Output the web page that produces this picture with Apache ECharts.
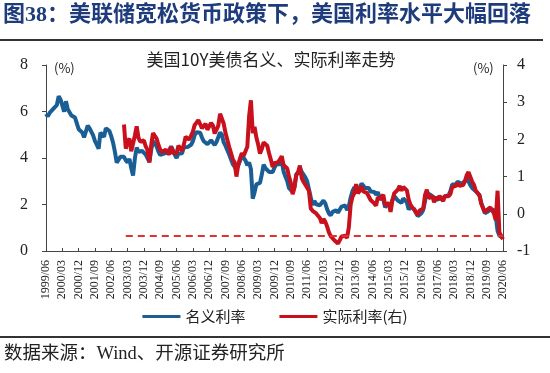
<!DOCTYPE html>
<html>
<head>
<meta charset="utf-8">
<script src="https://cdn.jsdelivr.net/npm/echarts@6/dist/echarts.min.js"></script>
<style>
html,body{margin:0;padding:0;background:#fff;}
#chart{width:550px;height:373px;}
</style>
</head>
<body>
<div id="chart"></div>
<script>
// ---- data ----
var firstMonth = [1999, 6];
var lastMonth = [2020, 6];
var tickLabels = ['1999/06','2000/03','2000/12','2001/09','2002/06','2003/03','2003/12','2004/09','2005/06','2006/03','2006/12','2007/09','2008/06','2009/03','2009/12','2010/09','2011/06','2012/03','2012/12','2013/09','2014/06','2015/03','2015/12','2016/09','2017/06','2018/03','2018/12','2019/09','2020/06'];

// 10Y nominal yield (%), monthly from 1999/06
var nominal = [
  5.90, 5.79, 5.94, 5.92, 6.11, 6.03, 6.28,
  6.66, 6.52, 6.26, 5.99, 6.44, 6.10, 6.05, 5.83, 5.80, 5.74, 5.72, 5.24,
  5.16, 5.10, 4.89, 5.14, 5.39, 5.28, 5.24, 4.97, 4.73, 4.57, 4.40, 5.09,
  5.04, 4.91, 5.28, 5.21, 5.16, 4.93, 4.65, 4.26, 3.80, 3.75, 4.05, 4.03,
  4.05, 3.90, 3.81, 3.96, 3.57, 3.25, 3.98, 4.45, 4.27, 4.29, 4.30, 4.27,
  4.15, 4.08, 3.83, 4.35, 4.72, 4.73, 4.50, 4.28, 4.13, 4.10, 4.19, 4.23,
  4.22, 4.17, 4.50, 4.34, 4.14, 4.00, 4.18, 4.26, 4.20, 4.46, 4.54, 4.47,
  4.42, 4.57, 4.72, 4.99, 5.11, 5.11, 5.09, 4.88, 4.72, 4.73, 4.60, 4.56,
  4.76, 4.72, 4.56, 4.69, 4.75, 5.10, 5.00, 4.67, 4.52, 4.53, 4.15, 4.10,
  3.74, 3.74, 3.51, 3.68, 3.88, 4.10, 4.01, 3.89, 3.69, 3.81, 3.53, 2.25,
  2.52, 2.87, 2.82, 2.93, 3.29, 3.72, 3.56, 3.59, 3.40, 3.39, 3.40, 3.59,
  3.73, 3.69, 3.73, 3.85, 3.42, 3.20, 3.01, 2.70, 2.65, 2.54, 2.76, 3.29,
  3.39, 3.58, 3.41, 3.46, 3.17, 3.00, 3.00, 2.30, 1.98, 2.15, 2.01, 1.98,
  1.97, 1.97, 2.17, 2.05, 1.80, 1.62, 1.53, 1.68, 1.72, 1.75, 1.65, 1.72,
  1.91, 1.98, 1.96, 1.76, 1.93, 2.30, 2.58, 2.74, 2.81, 2.62, 2.72, 2.90,
  2.86, 2.71, 2.72, 2.71, 2.56, 2.60, 2.54, 2.42, 2.53, 2.30, 2.33, 2.21,
  1.88, 1.98, 2.04, 1.94, 2.20, 2.36, 2.32, 2.17, 2.17, 2.07, 2.26, 2.24,
  2.09, 1.78, 1.89, 1.81, 1.81, 1.64, 1.50, 1.56, 1.63, 1.76, 2.14, 2.49,
  2.43, 2.42, 2.48, 2.30, 2.30, 2.19, 2.32, 2.21, 2.20, 2.36, 2.35, 2.40,
  2.58, 2.86, 2.84, 2.87, 2.98, 2.91, 2.89, 2.89, 3.00, 3.15, 3.12, 2.83,
  2.71, 2.68, 2.57, 2.53, 2.40, 2.07, 2.06, 1.63, 1.70, 1.71, 1.81, 1.86,
  1.76, 1.50, 0.87, 0.66, 0.67, 0.55
];

// 10Y real (TIPS) yield (%), monthly from 2003/01
var realStart = '2003/01';
var real = [
  2.40, 1.75, 1.95, 2.02, 1.68, 1.68, 2.10, 2.35, 2.04, 1.94, 1.97, 1.97,
  1.81, 1.71, 1.38, 1.84, 2.17, 2.16, 2.02, 1.85, 1.72, 1.66, 1.67, 1.72,
  1.70, 1.59, 1.81, 1.64, 1.62, 1.62, 1.83, 1.86, 1.69, 1.86, 2.07, 2.08,
  1.99, 2.04, 2.21, 2.39, 2.45, 2.52, 2.51, 2.30, 2.34, 2.42, 2.26, 2.26,
  2.44, 2.38, 2.16, 2.26, 2.37, 2.69, 2.65, 2.42, 2.17, 2.16, 1.80, 1.76,
  1.47, 1.38, 1.00, 1.32, 1.49, 1.63, 1.56, 1.55, 1.80, 2.62, 3.05, 2.17,
  2.34, 2.05, 1.86, 1.62, 1.74, 1.92, 1.87, 1.83, 1.63, 1.45, 1.26, 1.36,
  1.39, 1.39, 1.46, 1.55, 1.31, 1.26, 1.22, 1.00, 0.83, 0.53, 0.70, 1.04,
  1.10, 1.30, 0.96, 0.86, 0.78, 0.76, 0.62, 0.14, 0.08, 0.10, 0.01, -0.03,
  -0.11, -0.25, -0.14, -0.21, -0.34, -0.50, -0.60, -0.59, -0.71, -0.75, -0.80, -0.75,
  -0.61, -0.57, -0.59, -0.65, -0.36, 0.25, 0.46, 0.55, 0.80, 0.55, 0.62, 0.74,
  0.60, 0.55, 0.56, 0.54, 0.37, 0.37, 0.28, 0.22, 0.45, 0.38, 0.45, 0.51,
  0.23, 0.25, 0.29, 0.05, 0.35, 0.55, 0.60, 0.65, 0.75, 0.62, 0.72, 0.75,
  0.63, 0.38, 0.24, 0.17, 0.18, 0.05, -0.03, 0.09, 0.07, 0.14, 0.50, 0.65,
  0.42, 0.42, 0.48, 0.31, 0.45, 0.39, 0.48, 0.42, 0.34, 0.48, 0.48, 0.47,
  0.53, 0.72, 0.74, 0.75, 0.83, 0.75, 0.73, 0.77, 0.87, 1.04, 1.12, 0.99,
  0.86, 0.78, 0.62, 0.56, 0.50, 0.27, 0.24, 0.04, 0.10, 0.15, 0.17, 0.13,
  0.01, -0.17, 0.62, -0.50, -0.45, -0.68
];

// reference level of real yield (dashed line)
var realRefLevel = -0.6;
var refFrom = '2003/02';
var refTo = '2020/06';

// ---- build categories ----
var months = [];
(function(){
  var y = firstMonth[0], m = firstMonth[1];
  while (y < lastMonth[0] || (y === lastMonth[0] && m <= lastMonth[1])) {
    months.push(y + '/' + (m < 10 ? '0' + m : '' + m));
    m++; if (m > 12) { m = 1; y++; }
  }
})();
var realOffset = months.indexOf(realStart);
var realData = months.map(function(_, i){
  var k = i - realOffset;
  return (k >= 0 && k < real.length) ? real[k] : null;
});

var serif = '"Liberation Serif","Times New Roman","Noto Sans CJK SC",serif';
var sans = '"Noto Sans CJK SC","Noto Sans",sans-serif';
var blue = '#1A5E96';
var red = '#C8111C';
var axisColor = '#444';

var chart = echarts.init(document.getElementById('chart'));
chart.setOption({
  animation: false,
  backgroundColor: '#fff',
  graphic: [
    { type: 'text', left: 3, top: 4, style: { text: '图38：美联储宽松货币政策下，美国利率水平大幅回落', font: 'bold 22px ' + serif, fill: '#1E3C7C' } },
    { type: 'rect', shape: { x: 0, y: 39, width: 543, height: 2 }, style: { fill: '#333' } },
    { type: 'text', x: 271, y: 60, style: { text: '美国10Y美债名义、实际利率走势', font: '17px ' + sans, fill: '#222', align: 'center', verticalAlign: 'middle' } },
    { type: 'text', x: 54, y: 68, style: { text: '(%)', font: '13px ' + sans, fill: '#222', verticalAlign: 'middle' } },
    { type: 'text', x: 473, y: 68, style: { text: '(%)', font: '13px ' + sans, fill: '#222', verticalAlign: 'middle' } },
    { type: 'rect', shape: { x: 0, y: 336, width: 550, height: 2 }, style: { fill: '#333' } },
    { type: 'text', x: 4, y: 354, style: { text: '数据来源：Wind、开源证券研究所', font: '18.5px ' + serif, fill: '#222', verticalAlign: 'middle' } }
  ],
  legend: {
    bottom: 44,
    left: 'center',
    itemWidth: 38,
    itemHeight: 3,
    itemGap: 34,
    icon: 'rect',
    textStyle: { fontFamily: sans, fontSize: 15, color: '#222' },
    data: ['名义利率', '实际利率(右)']
  },
  grid: { left: 46, right: 47, top: 65, bottom: 122, containLabel: false },
  xAxis: {
    type: 'category',
    data: months,
    boundaryGap: false,
    axisLine: { lineStyle: { color: axisColor, width: 1 } },
    axisTick: { inside: true, length: 3, interval: 8, lineStyle: { color: axisColor } },
    axisLabel: { interval: 8, rotate: 90, margin: 9, fontFamily: serif, fontSize: 12, color: '#222' },
    splitLine: { show: false }
  },
  yAxis: [
    {
      type: 'value', min: 0, max: 8, interval: 2,
      axisLine: { show: true, lineStyle: { color: axisColor } },
      axisTick: { show: true, length: 4, lineStyle: { color: axisColor } },
      axisLabel: { margin: 18, fontFamily: serif, fontSize: 16, color: '#222' },
      splitLine: { show: false }
    },
    {
      type: 'value', min: -1, max: 4, interval: 1, position: 'right',
      axisLine: { show: true, lineStyle: { color: axisColor } },
      axisTick: { show: true, length: 4, lineStyle: { color: axisColor } },
      axisLabel: { margin: 14, fontFamily: serif, fontSize: 16, color: '#222' },
      splitLine: { show: false }
    }
  ],
  series: [
    {
      name: '名义利率', type: 'line', yAxisIndex: 0, data: nominal,
      showSymbol: false, symbol: 'none',
      lineStyle: { color: blue, width: 4 }, itemStyle: { color: blue }
    },
    {
      name: '实际利率(右)', type: 'line', yAxisIndex: 1, data: realData,
      showSymbol: false, symbol: 'none', connectNulls: false,
      lineStyle: { color: red, width: 4 }, itemStyle: { color: red },
      markLine: {
        silent: true, symbol: 'none', label: { show: false },
        lineStyle: { color: '#E03030', width: 2, type: [7, 5] },
        data: [[ { coord: [refFrom, realRefLevel] }, { coord: [refTo, realRefLevel] } ]]
      }
    }
  ]
});
</script>
</body>
</html>
